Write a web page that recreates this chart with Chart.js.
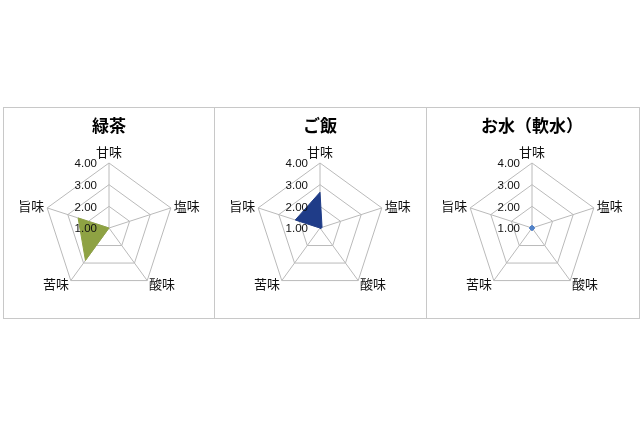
<!DOCTYPE html>
<html>
<head>
<meta charset="utf-8">
<script src="https://cdn.jsdelivr.net/npm/chart.js@4.4.3/dist/chart.umd.min.js"></script>
<style>
  html, body { margin: 0; padding: 0; background: #fff; }
  body { width: 640px; height: 426px; position: relative; overflow: hidden; }
  .panel { position: absolute; top: 107px; height: 212px; box-sizing: border-box; border: 1px solid #c8c8c8; }
  .panel canvas { position: absolute; left: 0; top: 0; }
</style>
</head>
<body>
<div class="panel" style="left:3px; width:212px;"><canvas id="c1" width="210" height="210"></canvas></div>
<div class="panel" style="left:214px; width:213px;"><canvas id="c2" width="210" height="210"></canvas></div>
<div class="panel" style="left:426px; width:214px;"><canvas id="c3" width="210" height="210"></canvas></div>
<script>
// axes of the radar, clockwise from the top
const categories = ['甘味', '塩味', '酸味', '苦味', '旨味'];

// values (scale 1 - 4)
const greenTea = [1.0, 1.0, 1.0, 2.85, 2.5];
const rice = [2.65, 1.1, 1.05, 1.0, 2.2];
const water = [1.0, 1.0, 1.0, 1.0, 1.0];

const tickValues = [1, 2, 3, 4];
const tickLabels = ['1.00', '2.00', '3.00', '4.00'];

const JP = '"Noto Sans CJK JP", "Noto Sans", sans-serif';

// Chart.js skips the tick at the centre and centres the others on the axis,
// so the labels are drawn here, left of the vertical axis
const tickLabelPlugin = {
    id: 'sideTicks',
    afterDatasetsDraw(chart) {
        const scale = chart.scales.r;
        const ctx = chart.ctx;
        ctx.save();
        ctx.font = '11.5px "Liberation Sans", Arial, sans-serif';
        ctx.fillStyle = '#111';
        ctx.textAlign = 'right';
        ctx.textBaseline = 'middle';
        tickValues.forEach((v, i) => {
            const y = scale.yCenter - scale.getDistanceFromCenterForValue(v);
            ctx.fillText(tickLabels[i], scale.xCenter - 12, y + 1);
        });
        ctx.restore();
    }
};

function makeRadar(id, title, values, color, showPoints) {
    return new Chart(document.getElementById(id), {
        type: 'radar',
        data: {
            labels: categories,
            datasets: [{
                label: title,
                data: values,
                backgroundColor: showPoints ? 'rgba(0,0,0,0)' : color,
                borderColor: color,
                borderWidth: 1,
                fill: !showPoints,
                pointRadius: showPoints ? 2 : 0,
                pointBackgroundColor: color,
                pointBorderColor: color
            }]
        },
        options: {
            responsive: false,
            animation: false,
            layout: { padding: { left: 13, right: 13, top: 0, bottom: 14 } },
            plugins: {
                legend: { display: false },
                tooltip: { enabled: false },
                title: {
                    display: true,
                    text: title,
                    color: '#000',
                    font: { family: JP, size: 17, weight: 'bold', lineHeight: 1.2 },
                    padding: { top: 7, bottom: 0 }
                }
            },
            scales: {
                r: {
                    min: 1,
                    max: 4,
                    ticks: { display: false, stepSize: 1 },
                    grid: { color: '#bababa', lineWidth: 1 },
                    angleLines: { color: '#bababa', lineWidth: 1 },
                    pointLabels: {
                        color: '#111',
                        padding: 3,
                        font: (ctx) => ({
                            family: JP,
                            size: 13,
                            // side and bottom labels sit level with their corner
                            lineHeight: ctx.index === 0 ? 1.2 : '2px'
                        })
                    }
                }
            }
        },
        plugins: [tickLabelPlugin]
    });
}

makeRadar('c1', '緑茶', greenTea, '#8ea243', false);
makeRadar('c2', 'ご飯', rice, '#1f3c88', false);
makeRadar('c3', 'お水（軟水）', water, '#5282c8', true);
</script>
</body>
</html>
